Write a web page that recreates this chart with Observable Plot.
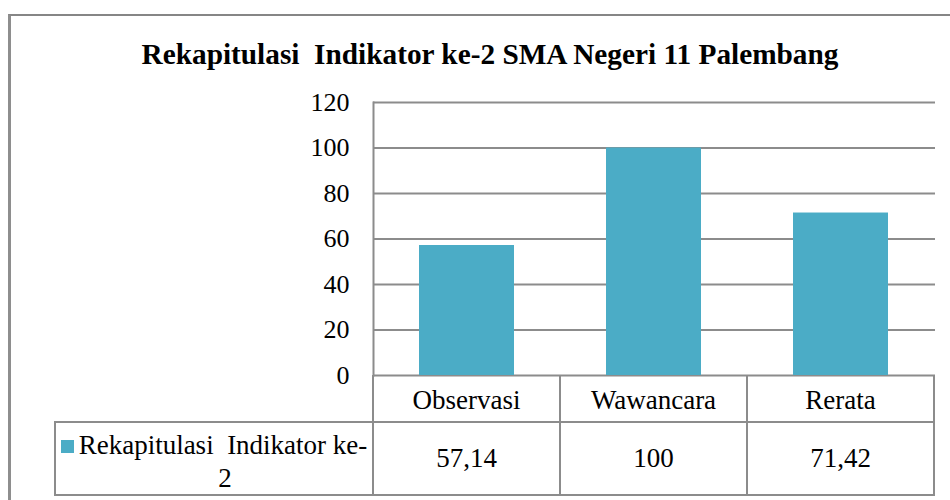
<!DOCTYPE html>
<html><head><meta charset="utf-8">
<script src="https://cdn.jsdelivr.net/npm/d3@7"></script>
<script src="https://cdn.jsdelivr.net/npm/@observablehq/plot@0.6"></script>
<style>
html,body{margin:0;padding:0;background:#fff;width:950px;height:500px;overflow:hidden;}
body{position:relative;font-family:'Liberation Serif', serif;color:#000;}
#border{position:absolute;left:8px;top:14px;width:960px;height:500px;border-left:3px solid #8e8e8e;border-top:2px solid #868686;}
#title{position:absolute;top:40px;left:490px;transform:translateX(-50%);white-space:pre;font-family:'Liberation Serif', serif;font-weight:bold;font-size:29.3px;line-height:29px;}
#chart{position:absolute;left:0;top:0;}
.cell{position:absolute;box-sizing:border-box;border:2px solid #8c8c8c;display:flex;align-items:center;justify-content:center;font-family:'Liberation Serif', serif;font-size:27px;line-height:33px;white-space:pre;text-align:center;background:transparent;}
.swatch{display:inline-block;width:13px;height:13px;margin-right:5px;vertical-align:baseline;position:relative;top:-1px;}
</style></head><body>
<div id="border"></div>
<div id="title"></div>
<div id="chart"></div>
<div id="table"></div>
<script>
const title = "Rekapitulasi  Indikator ke-2 SMA Negeri 11 Palembang";
const categories = ["Observasi", "Wawancara", "Rerata"];
const values = [57.14, 100, 71.42];
const seriesName = "Rekapitulasi  Indikator ke-2";
const yTicks = [0, 20, 40, 60, 80, 100, 120];
const barColor = "#4BACC6";
const lineColor = "#8c8c8c";

const data = categories.map((c, i) => ({category: c, value: values[i]}));
document.getElementById("title").textContent = title;

const W = 950, H = 377;
const chart = Plot.plot({
  width: W, height: H,
  marginTop: 102, marginBottom: 2, marginLeft: 373, marginRight: 15,
  style: {fontFamily: "'Liberation Serif', serif", fontSize: "26px", color: "#000", background: "transparent", overflow: "visible"},
  x: {domain: categories, paddingInner: 0.49, paddingOuter: 0.245, axis: null},
  y: {domain: [0, 120], label: null},
  marks: [
    Plot.gridY(yTicks, {stroke: lineColor, strokeOpacity: 1, strokeWidth: 2}),
    Plot.barY(data, {x: "category", y: "value", fill: barColor}),
    Plot.frame({anchor: "left", stroke: lineColor, strokeWidth: 2}),
    Plot.axisY(yTicks, {tickSize: 0, tickPadding: 24, label: null, tickFormat: d => String(d), fontSize: 26, fill: "#000"})
  ]
});
document.getElementById("chart").appendChild(chart);

// Data table below the chart, aligned with the x band scale
const xs = chart.scale("x");
const step = xs.step ?? (xs.bandwidth / (1 - 0.49));
const fmt = v => String(v).replace(".", ",");
const table = document.getElementById("table");
function cell(left, top, width, height, content, extra) {
  const d = document.createElement("div");
  d.className = "cell";
  d.style.left = left + "px"; d.style.top = top + "px";
  d.style.width = width + "px"; d.style.height = height + "px";
  if (extra) Object.assign(d.style, extra);
  if (typeof content === "string") d.textContent = content; else d.appendChild(content);
  table.appendChild(d);
  return d;
}
const row1Top = 375, row1H = 48, row2Top = 421, row2H = 75;
categories.forEach((c, i) => {
  const left = xs.apply(c) - (step - xs.bandwidth) / 2;
  cell(left - 1, row1Top, step + 2, row1H, c, {borderTop: "none", paddingTop: "4px"});
  cell(left - 1, row2Top, step + 2, row2H, fmt(values[i]));
});
// series header cell with legend swatch, wrapped after "ke-"
const firstLeft = xs.apply(categories[0]) - (step - xs.bandwidth) / 2;
const hdr = document.createElement("div");
hdr.style.textAlign = "center";
const parts = seriesName.split(/(?<=-)/);
const l1 = document.createElement("div");
const sw = document.createElement("span");
sw.className = "swatch"; sw.style.background = barColor;
l1.appendChild(sw);
l1.appendChild(document.createTextNode(parts[0]));
const l2 = document.createElement("div");
l2.style.paddingLeft = "22px";
l2.textContent = parts.slice(1).join("");
hdr.appendChild(l1); hdr.appendChild(l2);
cell(54, row2Top, firstLeft + 1 - 54, row2H, hdr, {alignItems: "flex-start", paddingTop: "6px"});
</script>
</body></html>
